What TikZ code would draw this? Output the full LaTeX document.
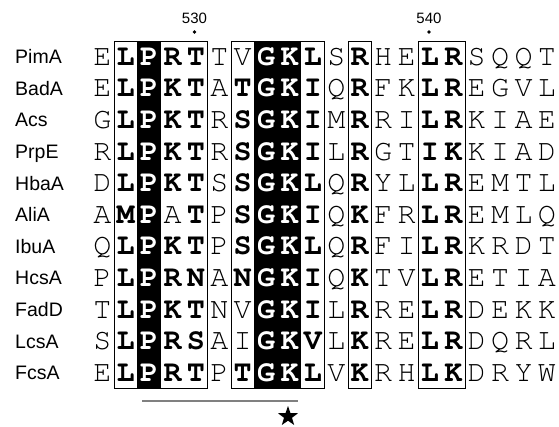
\documentclass[tikz,border=0pt]{standalone}
\usepackage{fontspec}
\setmainfont{Liberation Sans}
\newfontfamily\seqfont{TeX Gyre Cursor}
\usetikzlibrary{shapes.geometric}

% alignment grid (pt, y grows downwards)
\def\colw{23.4}
\def\colx{90.6}
\def\rowh{31.6}
\def\rowtop{41}
\def\rowbot{388.6}

\newcommand\colpos[1]{\colx+#1*\colw}

% one aligned sequence: #1 row index, #2 name, #3 style/letter items
\newcommand\seqrow[3]{%
  \node[lbl] (name#1) at (15, {\rowtop+(#1+0.5)*\rowh+6.8}) {#2};
  \foreach \s/\c [count=\k from 0] in {#3} {
    \node[res\s] (res#1-\k) at ({\colx+(\k+0.5)*\colw}, {\rowtop+(#1+0.5)*\rowh+8.5}) {\c};
  }%
}

\begin{document}
\begin{tikzpicture}[x=1pt,y=-1pt,
  resR/.style={anchor=base,inner sep=0pt,font=\seqfont\fontsize{30}{30}\selectfont},
  resB/.style={resR,font=\seqfont\bfseries\fontsize{30}{30}\selectfont},
  resW/.style={resB,text=white},
  lbl/.style={anchor=base west,inner sep=0pt,font=\fontsize{19.5}{19.5}\selectfont},
  num/.style={inner sep=0pt,font=\fontsize{15}{15}\selectfont},
  frame/.style={draw=black,line width=1pt},
  shade/.style={fill=black}]
\useasboundingbox (0,0) rectangle (559,426);

% strictly conserved columns
\fill[shade] ({\colpos{2}},\rowtop) rectangle ({\colpos{3}},\rowbot);
\fill[shade] ({\colpos{7}},\rowtop) rectangle ({\colpos{9}},\rowbot);

% similarity frames
\draw[frame] ({\colpos{1}},\rowtop) rectangle ({\colpos{5}},\rowbot);
\draw[frame] ({\colpos{6}},\rowtop) rectangle ({\colpos{10}},\rowbot);
\draw[frame] ({\colpos{11}},\rowtop) rectangle ({\colpos{12}},\rowbot);
\draw[frame] ({\colpos{14}},\rowtop) rectangle ({\colpos{16}},\rowbot);

% residue numbering
\node[num] (n530) at (194.5,18) {530};
\fill (194.5,32) circle (1.8);
\node[num] (n540) at (429,18) {540};
\fill (429,32) circle (1.8);

\seqrow{0}{PimA}{R/E,B/L,W/P,B/R,B/T,R/T,R/V,W/G,W/K,B/L,R/S,B/R,R/H,R/E,B/L,B/R,R/S,R/Q,R/Q,R/T}
\seqrow{1}{BadA}{R/E,B/L,W/P,B/K,B/T,R/A,B/T,W/G,W/K,B/I,R/Q,B/R,R/F,R/K,B/L,B/R,R/E,R/G,R/V,R/L}
\seqrow{2}{Acs}{R/G,B/L,W/P,B/K,B/T,R/R,B/S,W/G,W/K,B/I,R/M,B/R,R/R,R/I,B/L,B/R,R/K,R/I,R/A,R/E}
\seqrow{3}{PrpE}{R/R,B/L,W/P,B/K,B/T,R/R,B/S,W/G,W/K,B/I,R/L,B/R,R/G,R/T,B/I,B/K,R/K,R/I,R/A,R/D}
\seqrow{4}{HbaA}{R/D,B/L,W/P,B/K,B/T,R/S,B/S,W/G,W/K,B/L,R/Q,B/R,R/Y,R/L,B/L,B/R,R/E,R/M,R/T,R/L}
\seqrow{5}{AliA}{R/A,B/M,W/P,R/A,B/T,R/P,B/S,W/G,W/K,B/I,R/Q,B/K,R/F,R/R,B/L,B/R,R/E,R/M,R/L,R/Q}
\seqrow{6}{IbuA}{R/Q,B/L,W/P,B/K,B/T,R/P,B/S,W/G,W/K,B/L,R/Q,B/R,R/F,R/I,B/L,B/R,R/K,R/R,R/D,R/T}
\seqrow{7}{HcsA}{R/P,B/L,W/P,B/R,B/N,R/A,B/N,W/G,W/K,B/I,R/Q,B/K,R/T,R/V,B/L,B/R,R/E,R/T,R/I,R/A}
\seqrow{8}{FadD}{R/T,B/L,W/P,B/K,B/T,R/N,R/V,W/G,W/K,B/I,R/L,B/R,R/R,R/E,B/L,B/R,R/D,R/E,R/K,R/K}
\seqrow{9}{LcsA}{R/S,B/L,W/P,B/R,B/S,R/A,R/I,W/G,W/K,B/V,R/L,B/K,R/R,R/E,B/L,B/R,R/D,R/Q,R/R,R/L}
\seqrow{10}{FcsA}{R/E,B/L,W/P,B/R,B/T,R/P,B/T,W/G,W/K,B/L,R/V,B/K,R/R,R/H,B/L,B/K,R/D,R/R,R/Y,R/W}

% motif underline and marker
\coordinate (motifL) at (142,401);
\coordinate (motifR) at (298,401);
\draw[gray,line width=1.8pt] (motifL) -- (motifR);
\node[star,star points=5,star point ratio=2.5,fill=black,inner sep=0pt,minimum size=21pt] (mark) at (288,416.5) {};
\end{tikzpicture}
\end{document}
